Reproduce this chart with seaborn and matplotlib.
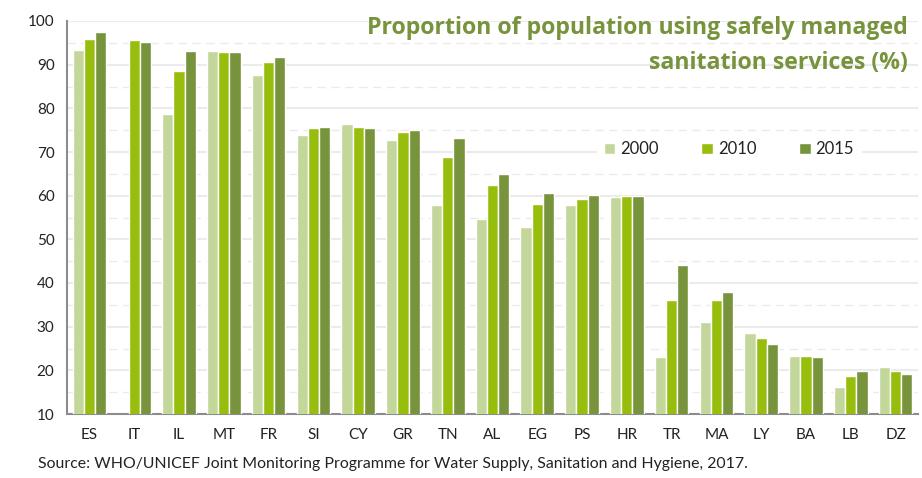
import numpy as np
import pandas as pd
import matplotlib
matplotlib.use('Agg')
import matplotlib.pyplot as plt
from matplotlib.ticker import MultipleLocator
import seaborn as sns

countries = ['ES', 'IT', 'IL', 'MT', 'FR', 'SI', 'CY', 'GR', 'TN', 'AL',
             'EG', 'PS', 'HR', 'TR', 'MA', 'LY', 'BA', 'LB', 'DZ']
years = ['2000', '2010', '2015']
v2000 = [93.4, np.nan, 78.8, 93.1, 87.6, 73.9, 76.3, 72.7, 57.8, 54.7,
         52.8, 57.8, 59.6, 23.0, 31.1, 28.6, 23.3, 16.2, 20.8]
v2010 = [95.9, 95.6, 88.5, 92.8, 90.7, 75.5, 75.8, 74.5, 68.9, 62.4,
         58.0, 59.3, 59.9, 36.0, 36.0, 27.3, 23.3, 18.6, 19.9]
v2015 = [97.5, 95.3, 93.1, 92.8, 91.8, 75.8, 75.5, 75.1, 73.3, 64.9,
         60.6, 60.2, 59.9, 44.1, 37.9, 26.1, 23.0, 19.9, 19.2]
colors = ['#C4D79B', '#97BE0D', '#77933C']

df = pd.DataFrame({'country': countries * 3,
                   'year': [y for y in years for _ in countries],
                   'value': v2000 + v2010 + v2015})

sns.set_style('white')
plt.rcParams['font.family'] = ['Lato', 'DejaVu Sans']

fig = plt.figure(figsize=(9.22, 4.78), dpi=100)
ax = fig.add_axes([67 / 922, 64 / 478, 851 / 922, 393 / 478])

sns.barplot(data=df, x='country', y='value', hue='year', palette=colors,
            width=0.75, saturation=1, ax=ax, zorder=3)

ax.set_ylim(10, 100)
ax.set_xlim(-0.5, len(countries) - 0.5)
ax.yaxis.set_major_locator(MultipleLocator(10))
ax.yaxis.set_minor_locator(MultipleLocator(5))
ax.grid(axis='y', which='major', color='#EBEBEB', lw=1.5, zorder=0)
ax.grid(axis='y', which='minor', color='#EBEBEB', lw=1, ls=(0, (6, 4)), zorder=0)
ax.set_axisbelow(True)

for s in ['top', 'right']:
    ax.spines[s].set_visible(False)
for s in ['left', 'bottom']:
    ax.spines[s].set_color('#8C8C8C')
    ax.spines[s].set_linewidth(1.5)

ax.set_xticks(np.arange(len(countries)))
ax.set_xticklabels(countries)
ax.set_xticks(np.arange(len(countries) + 1) - 0.5, minor=True)
ax.tick_params(axis='x', which='major', length=0, pad=10, labelsize=11, labelcolor='#222222')
ax.tick_params(axis='x', which='minor', length=5, width=1.5, color='#8C8C8C', direction='out')
ax.tick_params(axis='y', which='major', length=5, width=1.5, color='#8C8C8C',
               direction='out', labelsize=11, labelcolor='#222222', pad=4)
ax.tick_params(axis='y', which='minor', length=0)
ax.set_xlabel('')
ax.set_ylabel('')

leg = ax.legend(loc='upper left', bbox_to_anchor=(0.613, 0.732), ncol=3, frameon=True,
                fontsize=12, handlelength=0.7, handleheight=0.7, handletextpad=0.3,
                columnspacing=2.55, borderpad=0.4, fancybox=False)
leg.get_frame().set_facecolor('white')
leg.get_frame().set_edgecolor('white')
leg.get_frame().set_alpha(1)
leg.set_zorder(5)
for t in leg.get_texts():
    t.set_color('#222222')

title_font = ['Open Sans', 'DejaVu Sans']
fig.text(908 / 922, 1 - 28 / 478, 'Proportion of population using safely managed',
         ha='right', va='center', fontsize=16.7, fontweight='bold', color='#77933C',
         family=title_font)
fig.text(908 / 922, 1 - 63 / 478, 'sanitation services (%)',
         ha='right', va='center', fontsize=16.7, fontweight='bold', color='#77933C',
         family=title_font)
fig.text(38 / 922, 1 - 464 / 478,
         'Source: WHO/UNICEF Joint Monitoring Programme for Water Supply, Sanitation and Hygiene, 2017.',
         ha='left', va='center', fontsize=11.4, color='#222222')

fig.savefig('out.png', dpi=100)
